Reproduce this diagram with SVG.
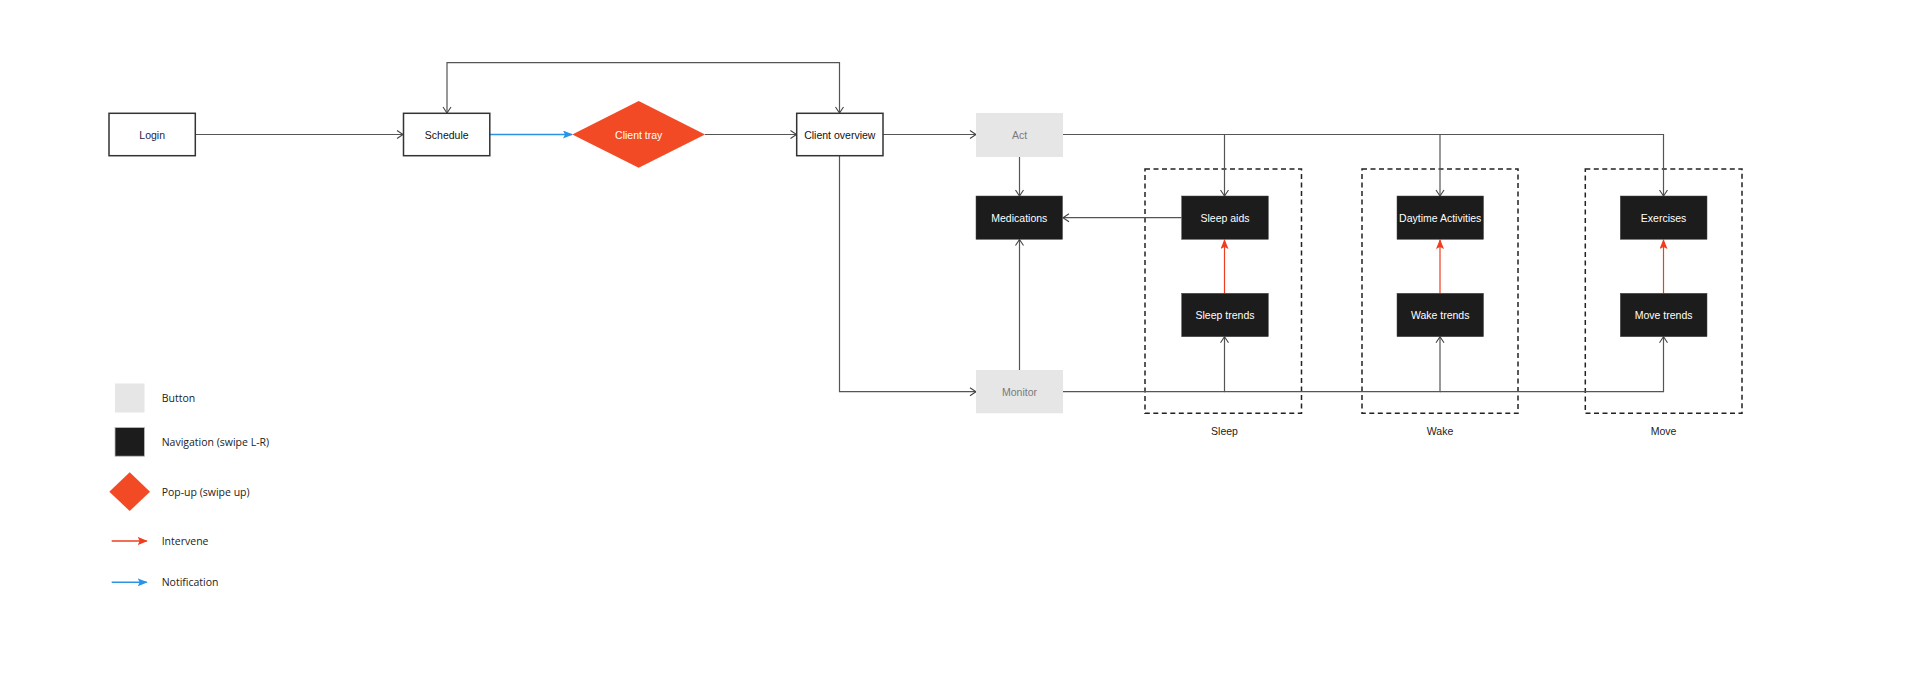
<svg xmlns="http://www.w3.org/2000/svg" width="1920" height="686" viewBox="0 0 1920 686">
<defs>
<style>
.lbl{font-family:"Liberation Sans",Arial,Helvetica,sans-serif;font-size:10.5px;text-anchor:middle;dominant-baseline:central}
.leg{font-family:"Open Sans","Noto Sans",sans-serif;font-size:10.5px;fill:#222;dominant-baseline:central}
.white{fill:#fff;stroke:#333;stroke-width:1.5}
.nav{fill:#1c1c1c;stroke:#444;stroke-width:0.5}
.btn{fill:#e6e6e6}
.pop{fill:#f24a25}
.conn{fill:none;stroke:#555;stroke-width:1.2}
.red{fill:none;stroke:#f03c1f;stroke-width:1.2}
.blue{fill:none;stroke:#2b93e6;stroke-width:1.5}
.group{fill:none;stroke:#222;stroke-width:1.5;stroke-dasharray:5 3.5}
</style>
<marker id="open" viewBox="0 0 8 10" refX="7" refY="5" markerWidth="8" markerHeight="10" markerUnits="userSpaceOnUse" orient="auto-start-reverse">
<path d="M1,1 L7,5 L1,9" fill="none" stroke="#444" stroke-width="1.1"/>
</marker>
<marker id="redhead" viewBox="0 0 10 8" refX="9" refY="4" markerWidth="10" markerHeight="8" markerUnits="userSpaceOnUse" orient="auto">
<path d="M0,0 L10,4 L0,8 L2,4 Z" fill="#f03c1f"/>
</marker>
<marker id="bluehead" viewBox="0 0 10 8" refX="9" refY="4" markerWidth="10" markerHeight="8" markerUnits="userSpaceOnUse" orient="auto">
<path d="M0,0 L10,4 L0,8 L2,4 Z" fill="#2b93e6"/>
</marker>
</defs>
<rect width="1920" height="686" fill="#fff"/>

<g id="groups">
<rect class="group" x="1145" y="169" width="156.5" height="244.3"/>
<rect class="group" x="1362" y="169" width="156" height="244.3"/>
<rect class="group" x="1585.3" y="169" width="156.7" height="244.3"/>
<text class="lbl" x="1224.5" y="430.5" fill="#222">Sleep</text>
<text class="lbl" x="1440" y="430.5" fill="#222">Wake</text>
<text class="lbl" x="1663.5" y="430.5" fill="#222">Move</text>
</g>

<g id="connectors">
<path class="conn" d="M195.3,134.5 H403" marker-end="url(#open)"/>
<path class="blue" d="M490,134.5 H572" marker-end="url(#bluehead)"/>
<path class="conn" d="M705,134.5 H796.5" marker-end="url(#open)"/>
<path class="conn" d="M447,113 V62.7 H839.5 V113" marker-start="url(#open)" marker-end="url(#open)"/>
<path class="conn" d="M883,134.5 H976" marker-end="url(#open)"/>
<path class="conn" d="M1019.5,157 V196" marker-end="url(#open)"/>
<path class="conn" d="M1063,134.5 H1224.5 V196" marker-end="url(#open)"/>
<path class="conn" d="M1224.5,134.5 H1440 V196" marker-end="url(#open)"/>
<path class="conn" d="M1440,134.5 H1663.5 V196" marker-end="url(#open)"/>
<path class="conn" d="M1181.5,217.7 H1063" marker-end="url(#open)"/>
<path class="conn" d="M1019.5,370 V239.5" marker-end="url(#open)"/>
<path class="conn" d="M839.5,156 V391.7 H976" marker-end="url(#open)"/>
<path class="conn" d="M1063,391.7 H1224.5 V336.7" marker-end="url(#open)"/>
<path class="conn" d="M1224.5,391.7 H1440 V336.7" marker-end="url(#open)"/>
<path class="conn" d="M1440,391.7 H1663.5 V336.7" marker-end="url(#open)"/>
<path class="red" d="M1224.5,293.3 V240" marker-end="url(#redhead)"/>
<path class="red" d="M1440,293.3 V240" marker-end="url(#redhead)"/>
<path class="red" d="M1663.5,293.3 V240" marker-end="url(#redhead)"/>
</g>

<g id="login">
<rect class="white" x="109" y="113.3" width="86.3" height="42.4"/>
<text class="lbl" x="152.2" y="134.5" fill="#1f1d4a">Login</text>
</g>
<g id="schedule">
<rect class="white" x="403.5" y="113.3" width="86.3" height="42.4"/>
<text class="lbl" x="446.7" y="134.5" fill="#111">Schedule</text>
</g>
<g id="client-tray">
<polygon class="pop" points="572.3,134.5 638.7,101 705,134.5 638.7,167.7"/>
<text class="lbl" x="638.7" y="134.5" fill="#fff">Client tray</text>
</g>
<g id="client-overview">
<rect class="white" x="796.7" y="113.3" width="86.3" height="42.4"/>
<text class="lbl" x="839.8" y="134.5" fill="#111">Client overview</text>
</g>
<g id="act">
<rect class="btn" x="976" y="113" width="87" height="44"/>
<text class="lbl" x="1019.5" y="134.5" fill="#7a7a7a">Act</text>
</g>
<g id="monitor">
<rect class="btn" x="976" y="370" width="87" height="43.3"/>
<text class="lbl" x="1019.5" y="391.7" fill="#7a7a7a">Monitor</text>
</g>
<g id="medications">
<rect class="nav" x="976" y="196" width="86.5" height="43.3"/>
<text class="lbl" x="1019.3" y="217.7" fill="#fff">Medications</text>
</g>
<g id="sleep-aids">
<rect class="nav" x="1181.7" y="196" width="86.6" height="43.3"/>
<text class="lbl" x="1225" y="217.7" fill="#fff">Sleep aids</text>
</g>
<g id="sleep-trends">
<rect class="nav" x="1181.7" y="293.3" width="86.6" height="43.4"/>
<text class="lbl" x="1225" y="315" fill="#fff">Sleep trends</text>
</g>
<g id="daytime-activities">
<rect class="nav" x="1397" y="196" width="86.5" height="43.3"/>
<text class="lbl" x="1440.2" y="217.7" fill="#fff">Daytime Activities</text>
</g>
<g id="wake-trends">
<rect class="nav" x="1397" y="293.3" width="86.5" height="43.4"/>
<text class="lbl" x="1440.2" y="315" fill="#fff">Wake trends</text>
</g>
<g id="exercises">
<rect class="nav" x="1620.3" y="196" width="86.7" height="43.3"/>
<text class="lbl" x="1663.6" y="217.7" fill="#fff">Exercises</text>
</g>
<g id="move-trends">
<rect class="nav" x="1620.3" y="293.3" width="86.7" height="43.4"/>
<text class="lbl" x="1663.6" y="315" fill="#fff">Move trends</text>
</g>

<g id="legend">
<rect class="btn" x="115" y="383.5" width="29.5" height="29"/>
<text class="leg" x="161.7" y="398.3">Button</text>
<rect class="nav" x="115" y="427.5" width="29.5" height="28.7" style="stroke:#bbb;stroke-width:0.8"/>
<text class="leg" x="161.7" y="441.7">Navigation (swipe L-R)</text>
<polygon class="pop" points="129.7,472.3 150,491.7 129.7,511 109.3,491.7"/>
<text class="leg" x="161.7" y="491.7">Pop-up (swipe up)</text>
<path class="red" d="M111.7,541 H146.7" stroke-width="1.5" style="stroke-width:1.5" marker-end="url(#redhead)"/>
<text class="leg" x="161.7" y="541">Intervene</text>
<path class="blue" d="M111.7,582.3 H146.7" marker-end="url(#bluehead)"/>
<text class="leg" x="161.7" y="582.3">Notification</text>
</g>
</svg>
